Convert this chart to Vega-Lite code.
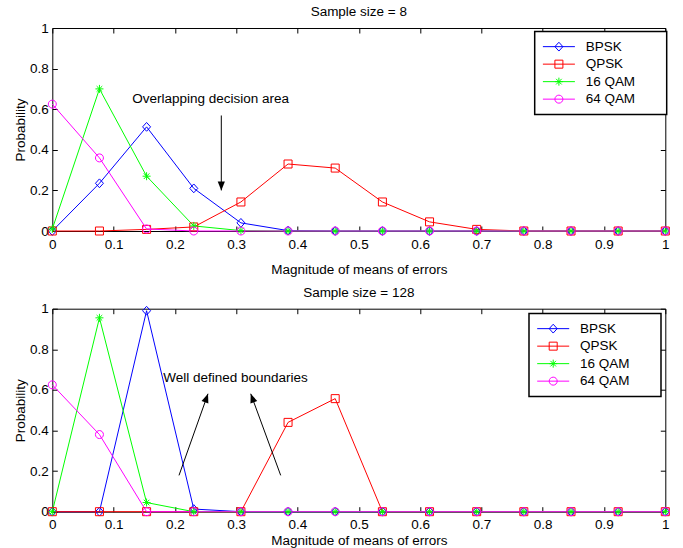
{
  "$schema": "https://vega.github.io/schema/vega-lite/v6.json",
  "padding": {"left": 12.3, "top": 4, "right": 0, "bottom": 0},
  "config": {
    "font": "Liberation Sans",
    "view": {"stroke": "black", "strokeWidth": 1},
    "axis": {"grid": false, "domain": false, "tickColor": "black", "tickSize": -5, "tickWidth": 1, "labelColor": "black", "labelFontSize": 13.5, "titleFontSize": 13.5, "titleFontWeight": "normal", "titleColor": "black", "labelFlush": false, "labelOverlap": false},
    "title": {"fontSize": 13.5, "fontWeight": "normal", "color": "black", "offset": 2.5},
    "legend": {"title": null, "strokeWidth": 1.5, "padding": 8.5, "rowPadding": 2.5, "symbolSize": 64, "symbolOffset": 8.95, "labelOffset": 20, "labelFontSize": 13.5, "labelColor": "black", "symbolStrokeWidth": 1}
  },
  "resolve": {"scale": {"color": "independent", "shape": "independent", "stroke": "independent"}, "legend": {"color": "independent", "shape": "independent", "stroke": "independent"}},
  "spacing": 7.7,
  "vconcat": [
    {
      "title": "Sample size = 8",
      "width": 613,
      "height": 203,
      "data": {"values": [
        {"series": "BPSK", "x": 0, "y": 0}, {"series": "BPSK", "x": 0.0769, "y": 0.235}, {"series": "BPSK", "x": 0.1538, "y": 0.513}, {"series": "BPSK", "x": 0.2308, "y": 0.21}, {"series": "BPSK", "x": 0.3077, "y": 0.04}, {"series": "BPSK", "x": 0.3846, "y": 0.002}, {"series": "BPSK", "x": 0.4615, "y": 0}, {"series": "BPSK", "x": 0.5385, "y": 0}, {"series": "BPSK", "x": 0.6154, "y": 0}, {"series": "BPSK", "x": 0.6923, "y": 0}, {"series": "BPSK", "x": 0.7692, "y": 0}, {"series": "BPSK", "x": 0.8462, "y": 0}, {"series": "BPSK", "x": 0.9231, "y": 0}, {"series": "BPSK", "x": 1, "y": 0},
        {"series": "QPSK", "x": 0, "y": 0}, {"series": "QPSK", "x": 0.0769, "y": 0}, {"series": "QPSK", "x": 0.1538, "y": 0.008}, {"series": "QPSK", "x": 0.2308, "y": 0.02}, {"series": "QPSK", "x": 0.3077, "y": 0.143}, {"series": "QPSK", "x": 0.3846, "y": 0.33}, {"series": "QPSK", "x": 0.4615, "y": 0.31}, {"series": "QPSK", "x": 0.5385, "y": 0.143}, {"series": "QPSK", "x": 0.6154, "y": 0.045}, {"series": "QPSK", "x": 0.6923, "y": 0.008}, {"series": "QPSK", "x": 0.7692, "y": 0}, {"series": "QPSK", "x": 0.8462, "y": 0}, {"series": "QPSK", "x": 0.9231, "y": 0}, {"series": "QPSK", "x": 1, "y": 0},
        {"series": "16 QAM", "x": 0, "y": 0.01}, {"series": "16 QAM", "x": 0.0769, "y": 0.7}, {"series": "16 QAM", "x": 0.1538, "y": 0.27}, {"series": "16 QAM", "x": 0.2308, "y": 0.025}, {"series": "16 QAM", "x": 0.3077, "y": 0.002}, {"series": "16 QAM", "x": 0.3846, "y": 0}, {"series": "16 QAM", "x": 0.4615, "y": 0}, {"series": "16 QAM", "x": 0.5385, "y": 0}, {"series": "16 QAM", "x": 0.6154, "y": 0}, {"series": "16 QAM", "x": 0.6923, "y": 0}, {"series": "16 QAM", "x": 0.7692, "y": 0}, {"series": "16 QAM", "x": 0.8462, "y": 0}, {"series": "16 QAM", "x": 0.9231, "y": 0}, {"series": "16 QAM", "x": 1, "y": 0},
        {"series": "64 QAM", "x": 0, "y": 0.625}, {"series": "64 QAM", "x": 0.0769, "y": 0.36}, {"series": "64 QAM", "x": 0.1538, "y": 0.01}, {"series": "64 QAM", "x": 0.2308, "y": 0}, {"series": "64 QAM", "x": 0.3077, "y": 0}, {"series": "64 QAM", "x": 0.3846, "y": 0}, {"series": "64 QAM", "x": 0.4615, "y": 0}, {"series": "64 QAM", "x": 0.5385, "y": 0}, {"series": "64 QAM", "x": 0.6154, "y": 0}, {"series": "64 QAM", "x": 0.6923, "y": 0}, {"series": "64 QAM", "x": 0.7692, "y": 0}, {"series": "64 QAM", "x": 0.8462, "y": 0}, {"series": "64 QAM", "x": 0.9231, "y": 0}, {"series": "64 QAM", "x": 1, "y": 0}
      ]},
      "layer": [
        {
          "mark": {"type": "line", "strokeWidth": 1},
          "encoding": {
            "x": {"field": "x", "type": "quantitative", "scale": {"domain": [0, 1], "nice": false}, "axis": {"orient": "bottom", "values": [0, 0.1, 0.2, 0.3, 0.4, 0.5, 0.6, 0.7, 0.8, 0.9, 1], "format": "~g", "title": "Magnitude of means of errors", "labelPadding": 11, "titlePadding": 12}},
            "y": {"field": "y", "type": "quantitative", "scale": {"domain": [0, 1], "nice": false}, "axis": {"orient": "left", "values": [0, 0.2, 0.4, 0.6, 0.8, 1], "format": "~g", "title": "Probability", "labelPadding": 9, "titlePadding": 2}},
            "stroke": {"field": "series", "type": "nominal", "sort": ["BPSK", "QPSK", "16 QAM", "64 QAM"], "scale": {"range": ["#0000ff", "#ff0000", "#00ff00", "#ff00ff"]},
              "legend": {"orient": "none", "legendX": 482.4, "legendY": 3.4, "symbolType": "M-4,0H4", "strokeColor": "black", "fillColor": "white", "title": "\u00a0", "titleOrient": "right", "titleFontSize": 1, "titlePadding": 23}}
          }
        },
        {
          "mark": {"type": "point", "filled": false, "size": 64, "strokeWidth": 1, "opacity": 1},
          "encoding": {
            "x": {"field": "x", "type": "quantitative", "scale": {"domain": [0, 1], "nice": false}, "axis": {"orient": "top", "values": [0, 0.1, 0.2, 0.3, 0.4, 0.5, 0.6, 0.7, 0.8, 0.9, 1], "labels": false, "title": null}},
            "y": {"field": "y", "type": "quantitative", "scale": {"domain": [0, 1], "nice": false}, "axis": {"orient": "right", "values": [0, 0.2, 0.4, 0.6, 0.8, 1], "labels": false, "title": null, "minExtent": 0}},
            "color": {"field": "series", "type": "nominal", "scale": {"domain": ["BPSK", "QPSK", "16 QAM", "64 QAM"], "range": ["#0000ff", "#ff0000", "#00ff00", "#ff00ff"]},
              "legend": {"orient": "none", "legendX": 482.4, "legendY": 3.4, "labelOpacity": 0}},
            "shape": {"field": "series", "type": "nominal", "scale": {"domain": ["BPSK", "QPSK", "16 QAM", "64 QAM"], "range": ["M0,-1.1L1,0L0,1.1L-1,0Z", "M-1,-1H1V1H-1Z", "M-1,0H1M0,-1V1M-0.7,-0.7L0.7,0.7M-0.7,0.7L0.7,-0.7", "M1,0A1,1,0,1,1,-1,0A1,1,0,1,1,1,0Z"]},
              "legend": {"orient": "none", "legendX": 482.4, "legendY": 3.4, "labelOpacity": 0}}
          }
        },
        {
          "data": {"values": [{"label": "Overlapping decision area", "x": 0.1305, "y": 0.65}]},
          "mark": {"type": "text", "align": "left", "baseline": "middle", "fontSize": 13.5, "color": "black"},
          "encoding": {
            "x": {"field": "x", "type": "quantitative", "axis": null},
            "y": {"field": "y", "type": "quantitative", "axis": null},
            "text": {"field": "label"}
          }
        },
        {
          "data": {"values": [{"id": "a", "x": 0.2757, "y": 0.569, "x2": 0.2757, "y2": 0.2}]},
          "layer": [
            {
              "mark": {"type": "rule", "color": "black", "strokeWidth": 1},
              "encoding": {
                "x": {"field": "x", "type": "quantitative", "axis": null},
                "y": {"field": "y", "type": "quantitative", "axis": null},
                "x2": {"field": "x2"},
                "y2": {"field": "y2"}
              }
            },
            {
              "mark": {"type": "point", "filled": true, "color": "black", "opacity": 1, "size": 81, "shape": "M0,0L-0.8,2L0.8,2Z", "angle": 180},
              "encoding": {
                "x": {"field": "x2", "type": "quantitative", "axis": null},
                "y": {"field": "y2", "type": "quantitative", "axis": null}
              }
            }
          ]
        }
      ]
    },
    {
      "title": "Sample size = 128",
      "width": 613,
      "height": 203,
      "data": {"values": [
        {"series": "BPSK", "x": 0, "y": 0}, {"series": "BPSK", "x": 0.0769, "y": 0}, {"series": "BPSK", "x": 0.1538, "y": 0.99}, {"series": "BPSK", "x": 0.2308, "y": 0.013}, {"series": "BPSK", "x": 0.3077, "y": 0}, {"series": "BPSK", "x": 0.3846, "y": 0}, {"series": "BPSK", "x": 0.4615, "y": 0}, {"series": "BPSK", "x": 0.5385, "y": 0}, {"series": "BPSK", "x": 0.6154, "y": 0}, {"series": "BPSK", "x": 0.6923, "y": 0}, {"series": "BPSK", "x": 0.7692, "y": 0}, {"series": "BPSK", "x": 0.8462, "y": 0}, {"series": "BPSK", "x": 0.9231, "y": 0}, {"series": "BPSK", "x": 1, "y": 0},
        {"series": "QPSK", "x": 0, "y": 0}, {"series": "QPSK", "x": 0.0769, "y": 0}, {"series": "QPSK", "x": 0.1538, "y": 0}, {"series": "QPSK", "x": 0.2308, "y": 0}, {"series": "QPSK", "x": 0.3077, "y": 0}, {"series": "QPSK", "x": 0.3846, "y": 0.44}, {"series": "QPSK", "x": 0.4615, "y": 0.557}, {"series": "QPSK", "x": 0.5385, "y": 0}, {"series": "QPSK", "x": 0.6154, "y": 0}, {"series": "QPSK", "x": 0.6923, "y": 0}, {"series": "QPSK", "x": 0.7692, "y": 0}, {"series": "QPSK", "x": 0.8462, "y": 0}, {"series": "QPSK", "x": 0.9231, "y": 0}, {"series": "QPSK", "x": 1, "y": 0},
        {"series": "16 QAM", "x": 0, "y": 0}, {"series": "16 QAM", "x": 0.0769, "y": 0.955}, {"series": "16 QAM", "x": 0.1538, "y": 0.045}, {"series": "16 QAM", "x": 0.2308, "y": 0}, {"series": "16 QAM", "x": 0.3077, "y": 0}, {"series": "16 QAM", "x": 0.3846, "y": 0}, {"series": "16 QAM", "x": 0.4615, "y": 0}, {"series": "16 QAM", "x": 0.5385, "y": 0}, {"series": "16 QAM", "x": 0.6154, "y": 0}, {"series": "16 QAM", "x": 0.6923, "y": 0}, {"series": "16 QAM", "x": 0.7692, "y": 0}, {"series": "16 QAM", "x": 0.8462, "y": 0}, {"series": "16 QAM", "x": 0.9231, "y": 0}, {"series": "16 QAM", "x": 1, "y": 0},
        {"series": "64 QAM", "x": 0, "y": 0.625}, {"series": "64 QAM", "x": 0.0769, "y": 0.38}, {"series": "64 QAM", "x": 0.1538, "y": 0}, {"series": "64 QAM", "x": 0.2308, "y": 0}, {"series": "64 QAM", "x": 0.3077, "y": 0}, {"series": "64 QAM", "x": 0.3846, "y": 0}, {"series": "64 QAM", "x": 0.4615, "y": 0}, {"series": "64 QAM", "x": 0.5385, "y": 0}, {"series": "64 QAM", "x": 0.6154, "y": 0}, {"series": "64 QAM", "x": 0.6923, "y": 0}, {"series": "64 QAM", "x": 0.7692, "y": 0}, {"series": "64 QAM", "x": 0.8462, "y": 0}, {"series": "64 QAM", "x": 0.9231, "y": 0}, {"series": "64 QAM", "x": 1, "y": 0}
      ]},
      "layer": [
        {
          "mark": {"type": "line", "strokeWidth": 1},
          "encoding": {
            "x": {"field": "x", "type": "quantitative", "scale": {"domain": [0, 1], "nice": false}, "axis": {"orient": "bottom", "values": [0, 0.1, 0.2, 0.3, 0.4, 0.5, 0.6, 0.7, 0.8, 0.9, 1], "format": "~g", "title": "Magnitude of means of errors", "labelPadding": 11, "titlePadding": 2}},
            "y": {"field": "y", "type": "quantitative", "scale": {"domain": [0, 1], "nice": false}, "axis": {"orient": "left", "values": [0, 0.2, 0.4, 0.6, 0.8, 1], "format": "~g", "title": "Probability", "labelPadding": 9, "titlePadding": 2}},
            "stroke": {"field": "series", "type": "nominal", "sort": ["BPSK", "QPSK", "16 QAM", "64 QAM"], "scale": {"range": ["#0000ff", "#ff0000", "#00ff00", "#ff00ff"]},
              "legend": {"orient": "none", "legendX": 476.7, "legendY": 4.7, "symbolType": "M-4,0H4", "strokeColor": "black", "fillColor": "white", "title": "\u00a0", "titleOrient": "right", "titleFontSize": 1, "titlePadding": 23}}
          }
        },
        {
          "mark": {"type": "point", "filled": false, "size": 64, "strokeWidth": 1, "opacity": 1},
          "encoding": {
            "x": {"field": "x", "type": "quantitative", "scale": {"domain": [0, 1], "nice": false}, "axis": {"orient": "top", "values": [0, 0.1, 0.2, 0.3, 0.4, 0.5, 0.6, 0.7, 0.8, 0.9, 1], "labels": false, "title": null}},
            "y": {"field": "y", "type": "quantitative", "scale": {"domain": [0, 1], "nice": false}, "axis": {"orient": "right", "values": [0, 0.2, 0.4, 0.6, 0.8, 1], "labels": false, "title": null, "minExtent": 0}},
            "color": {"field": "series", "type": "nominal", "scale": {"domain": ["BPSK", "QPSK", "16 QAM", "64 QAM"], "range": ["#0000ff", "#ff0000", "#00ff00", "#ff00ff"]},
              "legend": {"orient": "none", "legendX": 476.7, "legendY": 4.7, "labelOpacity": 0}},
            "shape": {"field": "series", "type": "nominal", "scale": {"domain": ["BPSK", "QPSK", "16 QAM", "64 QAM"], "range": ["M0,-1.1L1,0L0,1.1L-1,0Z", "M-1,-1H1V1H-1Z", "M-1,0H1M0,-1V1M-0.7,-0.7L0.7,0.7M-0.7,0.7L0.7,-0.7", "M1,0A1,1,0,1,1,-1,0A1,1,0,1,1,1,0Z"]},
              "legend": {"orient": "none", "legendX": 476.7, "legendY": 4.7, "labelOpacity": 0}}
          }
        },
        {
          "data": {"values": [{"label": "Well defined boundaries", "x": 0.181, "y": 0.657}]},
          "mark": {"type": "text", "align": "left", "baseline": "middle", "fontSize": 13.5, "color": "black"},
          "encoding": {
            "x": {"field": "x", "type": "quantitative", "axis": null},
            "y": {"field": "y", "type": "quantitative", "axis": null},
            "text": {"field": "label"}
          }
        },
        {
          "data": {"values": [{"id": "b", "x": 0.2067, "y": 0.179, "x2": 0.254, "y2": 0.581}, {"id": "c", "x": 0.3726, "y": 0.179, "x2": 0.3237, "y2": 0.581}]},
          "layer": [
            {
              "mark": {"type": "rule", "color": "black", "strokeWidth": 1},
              "encoding": {
                "x": {"field": "x", "type": "quantitative", "axis": null},
                "y": {"field": "y", "type": "quantitative", "axis": null},
                "x2": {"field": "x2"},
                "y2": {"field": "y2"}
              }
            },
            {
              "transform": [{"filter": "datum.id === 'b'"}],
              "mark": {"type": "point", "filled": true, "color": "black", "opacity": 1, "size": 81, "shape": "M0,0L-0.8,2L0.8,2Z", "angle": 19.6},
              "encoding": {
                "x": {"field": "x2", "type": "quantitative", "axis": null},
                "y": {"field": "y2", "type": "quantitative", "axis": null}
              }
            },
            {
              "transform": [{"filter": "datum.id === 'c'"}],
              "mark": {"type": "point", "filled": true, "color": "black", "opacity": 1, "size": 81, "shape": "M0,0L-0.8,2L0.8,2Z", "angle": 339.8},
              "encoding": {
                "x": {"field": "x2", "type": "quantitative", "axis": null},
                "y": {"field": "y2", "type": "quantitative", "axis": null}
              }
            }
          ]
        }
      ]
    }
  ]
}
